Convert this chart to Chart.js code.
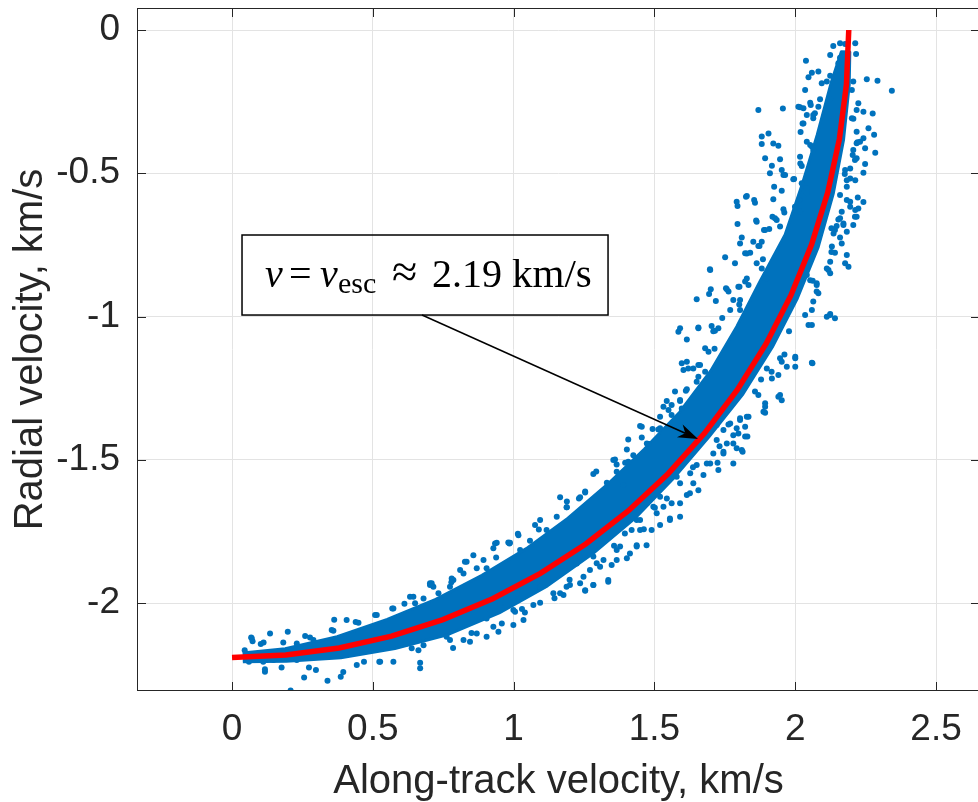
<!DOCTYPE html>
<html>
<head>
<meta charset="utf-8">
<script src="https://cdn.jsdelivr.net/npm/chart.js@4.4.1/dist/chart.umd.min.js"></script>
<style>
  html, body { margin: 0; padding: 0; background: #fff; overflow: hidden; }
  #wrap { width: 980px; height: 802px; }
</style>
</head>
<body>
<div id="wrap"><canvas id="chart" width="980" height="802"></canvas></div>
<script>
/* ---------- data ---------- */

const xTicks = [0, 0.5, 1, 1.5, 2, 2.5];
const yTicks = [-2, -1.5, -1, -0.5, 0];

// escape velocity circle, v = 2.19 km/s, read every 5 degrees
const escapeCurve = [
  [0, -2.19], [0.1909, -2.1817], [0.3803, -2.1567], [0.5668, -2.1154], [0.749, -2.0579],
  [0.9255, -1.9848], [1.095, -1.8966], [1.2561, -1.7939], [1.4077, -1.6776], [1.5486, -1.5486],
  [1.6776, -1.4077], [1.7939, -1.2561], [1.8966, -1.095], [1.9848, -0.9255], [2.0579, -0.749],
  [2.1154, -0.5668], [2.1567, -0.3803], [2.1817, -0.1909], [2.19, 0]
];

// outline of the solid part of the cloud (inner edge, then outer edge back)
const coreInner = [
  [0.038, -2.1747], [0.189, -2.1597], [0.3733, -2.1173], [0.5513, -2.0574], [0.7234, -1.9874],
  [0.8875, -1.9033], [1.045, -1.81], [1.193, -1.7038], [1.3319, -1.5872], [1.4637, -1.4637],
  [1.5895, -1.3338], [1.6997, -1.1902], [1.7927, -1.035], [1.8761, -0.8748], [1.964, -0.7148],
  [2.0236, -0.5422], [2.0779, -0.3664], [2.1269, -0.1861], [2.1637, -0.0756]
];
const coreOuter = [
  [2.1937, -0.0766], [2.1916, -0.1918], [2.1715, -0.3829], [2.1347, -0.572], [2.0814, -0.7576],
  [2.0075, -0.9361], [1.9183, -1.1075], [1.8144, -1.2705], [1.6929, -1.4206], [1.5662, -1.5662],
  [1.4302, -1.7044], [1.2802, -1.8283], [1.12, -1.9399], [0.9488, -2.0347], [0.7678, -2.1096],
  [0.5785, -2.1589], [0.3864, -2.1912], [0.1928, -2.2036], [0.0385, -2.2047]
];

// scattered samples around the solid part
const samples = [
  // low end
  [0.070, -2.123], [0.073, -2.133], [0.135, -2.106], [0.198, -2.100], [0.117, -2.240], [0.176, -2.225],
  [0.256, -2.260], [0.339, -2.271], [0.386, -2.257], [0.208, -2.305], [0.298, -2.234], [0.407, -2.059],
  [0.360, -2.097], [0.277, -2.120], [0.102, -2.143], [0.443, -2.216], [0.526, -2.205], [0.573, -2.205],
  [0.668, -2.208], [0.668, -2.228], [0.508, -2.042], [0.569, -2.019], [0.632, -1.978], [0.650, -2.001],
  [0.680, -1.984], [0.703, -1.937], [0.715, -1.943], [0.733, -1.966], [0.774, -1.943], [0.786, -1.920],
  [0.822, -1.897], [0.810, -1.885], [0.833, -1.856], [0.869, -1.879], [0.762, -2.118], [0.774, -2.129],
  [0.822, -2.129], [0.845, -2.135], [0.869, -2.106], [0.904, -2.118], [0.620, -2.141], [0.638, -2.158],
  [0.230, -2.141], [0.289, -2.129], [0.182, -2.138], [0.147, -2.199], [0.111, -2.205], [0.230, -2.199],
  [0.680, -2.147], [0.904, -2.054], [0.928, -2.083], [0.946, -2.100], [0.958, -2.071], [0.857, -1.833],
  [0.934, -1.792], [0.981, -1.789], [0.709, -1.931], [0.644, -1.978], [0.573, -2.019], [0.514, -2.042],
  [0.449, -2.069], [0.354, -2.094], [0.999, -2.077], [0.999, -2.024], [1.035, -2.059], [0.523, -2.205],
  [0.068, -2.120], [0.060, -2.205], [0.045, -2.165],
  // middle, inner side
  [0.940, -1.790], [0.985, -1.792], [1.017, -1.763], [1.058, -1.783], [1.076, -1.728], [1.094, -1.710],
  [1.153, -1.699], [1.189, -1.666], [1.236, -1.631], [1.254, -1.611], [1.283, -1.550], [1.331, -1.580],
  [1.360, -1.499], [1.366, -1.542], [1.402, -1.464], [1.425, -1.484], [1.449, -1.382], [1.455, -1.422],
  [1.478, -1.445], [1.396, -1.510], [1.407, -1.507], [1.514, -1.394], [0.893, -1.850], [0.904, -1.879],
  [1.165, -1.631], [1.189, -1.646], [1.117, -1.745], [1.023, -1.815], [1.354, -1.501], [1.390, -1.588],
  [1.254, -1.614], [1.188, -1.666], [0.987, -1.790], [0.928, -1.809], [0.827, -1.856], [0.780, -1.914],
  [1.455, -1.385], [1.520, -1.390], [1.479, -1.445], [1.407, -1.429], [1.520, -1.350], [1.561, -1.344],
  [1.532, -1.315], [1.561, -1.309], [1.573, -1.262], [1.615, -1.254], [1.591, -1.291], [1.597, -1.321],
  // middle, outer side
  [0.916, -2.025], [0.952, -2.007], [1.005, -2.030], [1.040, -2.033], [1.070, -2.007], [1.094, -1.999],
  [1.141, -1.966], [1.177, -1.972], [1.200, -1.937], [1.236, -1.931], [1.254, -1.957], [1.283, -1.937],
  [1.336, -1.926], [1.271, -1.885], [1.307, -1.873], [1.348, -1.867], [1.366, -1.850], [1.402, -1.844],
  [1.437, -1.803], [1.472, -1.798], [1.490, -1.745], [1.520, -1.728], [1.555, -1.710], [1.591, -1.699],
  [1.561, -1.652], [1.591, -1.652], [1.615, -1.623], [1.656, -1.606], [1.638, -1.582], [1.674, -1.553],
  [1.698, -1.513], [1.709, -1.478], [1.727, -1.536], [1.724, -1.510], [1.413, -1.827], [1.378, -1.803],
  [1.094, -1.943], [1.011, -1.966], [0.975, -1.978], [0.999, -1.995], [1.224, -1.862], [1.236, -1.838],
  [1.283, -1.838], [1.496, -1.664], [1.508, -1.687], [1.544, -1.635], [1.579, -1.559], [1.591, -1.582],
  [1.627, -1.547], [1.650, -1.518], [1.437, -1.710], [1.449, -1.745], [1.626, -1.617], [1.555, -1.705],
  [1.532, -1.664], [1.520, -1.629], [1.473, -1.652], [1.449, -1.710], [1.419, -1.745], [1.437, -1.798],
  [1.395, -1.757], [1.366, -1.815], [1.336, -1.920], [1.283, -1.937], [1.295, -1.861], [1.319, -1.850],
  [1.248, -1.908], [1.254, -1.955], [1.188, -1.943], [1.165, -1.966], [1.721, -1.379], [1.745, -1.396],
  [1.780, -1.443], [1.792, -1.460], [1.686, -1.513], [1.745, -1.478], [1.780, -1.513], [1.813, -1.472],
  // upper, inner side
  [1.585, -1.053], [1.591, -1.041], [1.615, -1.080], [1.656, -1.038], [1.703, -1.033], [1.715, -1.050],
  [1.680, -1.111], [1.692, -1.123], [1.597, -1.163], [1.615, -1.158], [1.603, -1.187], [1.620, -1.181],
  [1.656, -1.169], [1.656, -1.210], [1.680, -1.193], [1.650, -1.228], [1.727, -1.041], [1.709, -1.051],
  [1.638, -1.181], [1.662, -1.169], [1.591, -1.295], [1.550, -1.326], [1.473, -1.443],
  [1.795, -0.677], [1.863, -0.669], [1.804, -0.745], [1.810, -0.724], [1.851, -0.739], [1.869, -0.754],
  [1.828, -0.780], [1.840, -0.777], [1.751, -0.793], [1.786, -0.814], [1.863, -0.814], [1.881, -0.832],
  [1.698, -0.838], [1.802, -0.896], [1.822, -0.878], [1.834, -0.890], [1.763, -0.913], [1.757, -0.905],
  [1.700, -0.905], [1.694, -0.921], [1.718, -0.946], [1.650, -0.940], [1.780, -0.942], [1.804, -0.942],
  [1.769, -0.977], [1.804, -0.977], [1.697, -0.835], [1.754, -0.901], [1.798, -0.896], [1.828, -0.867],
  [1.899, -0.867], [1.656, -1.041],
  [1.905, -0.361], [1.881, -0.372], [1.881, -0.398], [1.922, -0.396], [1.940, -0.404], [1.893, -0.448],
  [1.917, -0.474], [1.946, -0.451], [1.952, -0.489], [1.958, -0.506], [1.910, -0.500], [1.993, -0.521],
  [2.017, -0.442], [2.023, -0.475], [2.041, -0.390], [2.059, -0.407], [2.029, -0.326], [1.925, -0.547],
  [1.952, -0.561], [1.828, -0.579], [1.792, -0.599], [1.795, -0.614], [1.854, -0.593], [1.857, -0.603],
  [1.922, -0.591], [1.958, -0.626], [1.919, -0.652], [1.934, -0.663], [1.861, -0.665], [1.889, -0.698],
  [1.873, -0.754], [1.822, -0.779], [1.964, -0.506], [1.996, -0.520], [2.053, -0.401], [2.064, -0.419],
  [1.825, -0.582], [1.928, -0.657], [1.946, -0.686], [1.893, -0.698], [1.881, -0.739], [2.023, -0.535],
  [2.041, -0.553], [1.999, -0.617], [2.017, -0.634], [2.041, -0.570], [2.015, -0.593], [1.869, -0.279],
  [1.956, -0.274],
  // top
  [2.135, -0.056], [2.177, -0.049], [2.213, -0.046], [2.124, -0.087], [2.153, -0.116], [2.216, -0.084],
  [2.038, -0.107], [2.059, -0.149], [2.082, -0.145], [2.047, -0.165], [2.094, -0.186], [2.124, -0.160],
  [2.035, -0.209], [2.254, -0.172], [2.292, -0.177], [2.343, -0.212], [2.206, -0.180], [2.201, -0.209],
  [2.088, -0.242], [2.124, -0.242], [2.053, -0.254], [2.017, -0.270], [2.041, -0.297], [2.026, -0.326],
  [2.082, -0.268], [2.064, -0.308], [2.159, -0.046], [2.159, -0.097], [2.112, -0.180], [2.011, -0.268],
  [2.029, -0.273], [2.055, -0.262], [2.064, -0.297],
  // upper, outer side
  [2.224, -0.256], [2.242, -0.285], [2.275, -0.291], [2.218, -0.279], [2.201, -0.308], [2.260, -0.343],
  [2.280, -0.366], [2.284, -0.428], [2.218, -0.355], [2.242, -0.378], [2.218, -0.395], [2.248, -0.413],
  [2.206, -0.419], [2.218, -0.448], [2.248, -0.468], [2.242, -0.498], [2.195, -0.483], [2.177, -0.489],
  [2.183, -0.524], [2.213, -0.524], [2.222, -0.585], [2.242, -0.600], [2.213, -0.628], [2.218, -0.652],
  [2.183, -0.593], [2.195, -0.599], [2.153, -0.661], [2.171, -0.681], [2.141, -0.698], [2.159, -0.724],
  [2.130, -0.756], [2.141, -0.777], [2.183, -0.785], [2.189, -0.826], [2.124, -0.809], [2.112, -0.832],
  [2.076, -0.890], [2.082, -0.919], [2.041, -0.855], [2.053, -0.873], [2.159, -0.576], [2.230, -0.390],
  [2.204, -0.436], [2.212, -0.454], [2.165, -0.634], [2.195, -0.617], [2.224, -0.623], [2.212, -0.652],
  [2.206, -0.681], [2.183, -0.704], [2.159, -0.657], [2.183, -0.547], [2.195, -0.518],
  [2.171, -0.675], [2.147, -0.684], [2.136, -0.710], [2.165, -0.745], [2.177, -0.814], [2.118, -0.838],
  [2.124, -0.849], [2.076, -0.884], [2.076, -0.913], [2.064, -0.948], [2.059, -0.977], [2.124, -0.995],
  [2.141, -1.006], [2.124, -0.991], [2.035, -0.995], [2.047, -1.030], [2.059, -1.030], [2.112, -1.001],
  [2.000, -1.140], [1.970, -1.175], [2.000, -1.175], [2.061, -1.163], [2.059, -1.161], [2.000, -1.146],
  [1.946, -1.146], [1.952, -1.158], [1.899, -1.181], [1.916, -1.193], [1.940, -1.204], [1.917, -1.216],
  [1.940, -1.280], [1.952, -1.292], [1.946, -1.274], [1.893, -1.303], [1.893, -1.336], [1.887, -1.332],
  [1.893, -1.315], [1.857, -1.262], [1.869, -1.274], [1.834, -1.350], [1.804, -1.361], [1.828, -1.350],
  [1.804, -1.355], [1.822, -1.385], [1.792, -1.390], [1.769, -1.373], [1.780, -1.414], [1.810, -1.466],
  [1.830, -1.419], [1.822, -1.419], [1.798, -1.408], [1.745, -1.472], [1.757, -1.443], [1.721, -1.431],
  // just outside the solid part, inner side
  [0.1121, -2.138], [0.2597, -2.1151], [0.4391, -2.0659], [0.6122, -2.0025], [0.7788, -1.9276],
  [0.9379, -1.8408], [1.0895, -1.7436], [1.2319, -1.6348], [1.3657, -1.5168], [1.4934, -1.3926],
  [1.6115, -1.259], [1.7134, -1.1127], [1.8012, -0.9577], [1.8852, -0.8002], [1.9611, -0.6372],
  [2.0179, -0.4659], [2.0697, -0.2909],
  [0.3629, -2.0583], [0.7029, -1.9311], [1.015, -1.758], [1.2933, -1.5413], [1.5436, -1.2952],
  [1.7407, -1.005], [1.9076, -0.6943], [2.0189, -0.356],
  // just outside the solid part, outer side
  [0.1169, -2.2309], [0.2732, -2.2253], [0.4686, -2.2047], [0.6619, -2.1651], [0.8504, -2.1047],
  [1.0296, -2.0208], [1.1987, -1.9183], [1.3565, -1.8001], [1.5015, -1.6676], [1.6368, -1.5263],
  [1.7628, -1.3772], [1.8786, -1.22], [1.9778, -1.0516], [2.0619, -0.8752], [2.1285, -0.6916],
  [2.1758, -0.5023], [2.2063, -0.3101],
  [0.395, -2.2404], [0.7849, -2.1566], [1.145, -1.9832], [1.4623, -1.7427], [1.7312, -1.4527],
  [1.9616, -1.1325], [2.1284, -0.7747], [2.2208, -0.3916]
];

// annotation: text box and arrow (data units)
const noteBox = { left: 0.0355, right: 1.3352, top: -0.7155, bottom: -0.9948 };
const arrowTail = [0.6747, -0.9948];
const arrowTip = [1.6548, -1.4276];

/* ---------- styles ---------- */

const BLUE = '#0072BD';
const AXIS = '#262626';
const SANS = '"Liberation Sans", Arial, Helvetica, sans-serif';
const SERIF = '"Liberation Serif", "Times New Roman", serif';
const TICK_LEN = 9;

const toXY = list => list.map(([x, y]) => ({ x, y }));

/* ---------- plugins ---------- */

const frame = {
  id: 'frame',
  afterDatasetsDraw(chart) {
    const { ctx, chartArea: a, scales: { x, y } } = chart;
    ctx.save();

    // inward tick marks and box
    ctx.strokeStyle = AXIS;
    ctx.lineWidth = 1;
    ctx.beginPath();
    xTicks.forEach(v => {
      const px = Math.round(x.getPixelForValue(v)) + 0.5;
      ctx.moveTo(px, a.bottom); ctx.lineTo(px, a.bottom - TICK_LEN);
      ctx.moveTo(px, a.top); ctx.lineTo(px, a.top + TICK_LEN);
    });
    yTicks.forEach(v => {
      const py = Math.round(y.getPixelForValue(v)) + 0.5;
      ctx.moveTo(a.left, py); ctx.lineTo(a.left + TICK_LEN, py);
      ctx.moveTo(a.right, py); ctx.lineTo(a.right - TICK_LEN, py);
    });
    ctx.stroke();
    ctx.strokeRect(a.left + 0.5, a.top + 0.5, a.right - a.left - 1, a.bottom - a.top - 1);

    // text box
    const bl = x.getPixelForValue(noteBox.left), br = x.getPixelForValue(noteBox.right);
    const bt = y.getPixelForValue(noteBox.top), bb = y.getPixelForValue(noteBox.bottom);
    ctx.strokeStyle = '#000';
    ctx.lineWidth = 1.5;
    ctx.strokeRect(bl, bt, br - bl, bb - bt);

    ctx.fillStyle = '#000';
    ctx.textBaseline = 'alphabetic';
    ctx.textAlign = 'left';
    const base = bt + 52;
    const parts = [
      [23, 'v', 'italic 40px ' + SERIF, 0],
      [47, '=', '40px ' + SERIF, 0],
      [78, 'v', 'italic 40px ' + SERIF, 0],
      [96, 'esc', '30px ' + SERIF, 6],
      [150, '\u2248', '46px ' + SERIF, 0],
      [190, '2.19', '40px ' + SERIF, 0],
      [270, 'km/s', '41px ' + SERIF, 0]
    ];
    parts.forEach(([dx, t, f, dy]) => {
      ctx.font = f;
      ctx.fillText(t, bl + dx, base + dy);
    });

    // arrow
    const tx = x.getPixelForValue(arrowTail[0]), ty = y.getPixelForValue(arrowTail[1]);
    const hx = x.getPixelForValue(arrowTip[0]), hy = y.getPixelForValue(arrowTip[1]);
    const ang = Math.atan2(hy - ty, hx - tx);
    const headLen = 20, headW = 7, notch = 14;
    const ux = Math.cos(ang), uy = Math.sin(ang);
    ctx.lineWidth = 1.5;
    ctx.beginPath();
    ctx.moveTo(tx, ty);
    ctx.lineTo(hx - ux * notch, hy - uy * notch);
    ctx.stroke();
    ctx.beginPath();
    ctx.moveTo(hx, hy);
    ctx.lineTo(hx - ux * headLen - uy * headW, hy - uy * headLen + ux * headW);
    ctx.lineTo(hx - ux * notch, hy - uy * notch);
    ctx.lineTo(hx - ux * headLen + uy * headW, hy - uy * headLen - ux * headW);
    ctx.closePath();
    ctx.fill();

    ctx.restore();
  }
};

/* ---------- chart ---------- */

new Chart(document.getElementById('chart').getContext('2d'), {
  type: 'scatter',
  data: {
    datasets: [
      {
        type: 'line',
        data: toXY(escapeCurve),
        borderColor: '#ff0000',
        borderWidth: 5.5,
        pointRadius: 0,
        tension: 0,
        fill: false,
        order: 0
      },
      {
        data: toXY(samples),
        backgroundColor: BLUE,
        borderWidth: 0,
        pointRadius: 3,
        order: 1
      },
      {
        type: 'line',
        data: toXY(coreInner.concat(coreOuter)),
        borderColor: BLUE,
        backgroundColor: BLUE,
        borderWidth: 3,
        borderJoinStyle: 'round',
        pointRadius: 0,
        tension: 0,
        fill: 'shape',
        order: 2
      }
    ]
  },
  options: {
    responsive: false,
    animation: false,
    devicePixelRatio: 1,
    layout: { autoPadding: false, padding: { top: 8, right: 0, left: 0, bottom: 0 } },
    plugins: { legend: { display: false }, tooltip: { enabled: false } },
    scales: {
      x: {
        type: 'linear',
        min: -0.3374,
        max: 2.656,
        afterFit: s => { s.height = 111; s.paddingLeft = 0; s.paddingRight = 0; },
        afterBuildTicks: s => { s.ticks = xTicks.map(v => ({ value: v })); },
        grid: { color: '#e3e3e3', drawTicks: false },
        border: { display: false },
        ticks: {
          autoSkip: false, maxRotation: 0, padding: 17, color: AXIS,
          font: { family: SANS, size: 37 },
          callback: v => String(v)
        },
        title: {
          display: true, text: 'Along-track velocity, km/s', color: AXIS,
          font: { family: SANS, size: 40, lineHeight: 1 },
          padding: { top: 0, bottom: 0 }
        }
      },
      y: {
        type: 'linear',
        min: -2.307,
        max: 0.0768,
        afterFit: s => { s.width = 137; s.paddingTop = 0; s.paddingBottom = 0; },
        afterBuildTicks: s => { s.ticks = yTicks.map(v => ({ value: v })); },
        grid: { color: '#e3e3e3', drawTicks: false },
        border: { display: false },
        ticks: {
          autoSkip: false, padding: 17, color: AXIS,
          font: { family: SANS, size: 37 },
          callback: v => String(v)
        },
        title: {
          display: true, text: 'Radial velocity, km/s', color: AXIS,
          font: { family: SANS, size: 40, lineHeight: 1 },
          padding: { top: 11, bottom: 0 }
        }
      }
    }
  },
  plugins: [frame]
});
</script>
</body>
</html>
